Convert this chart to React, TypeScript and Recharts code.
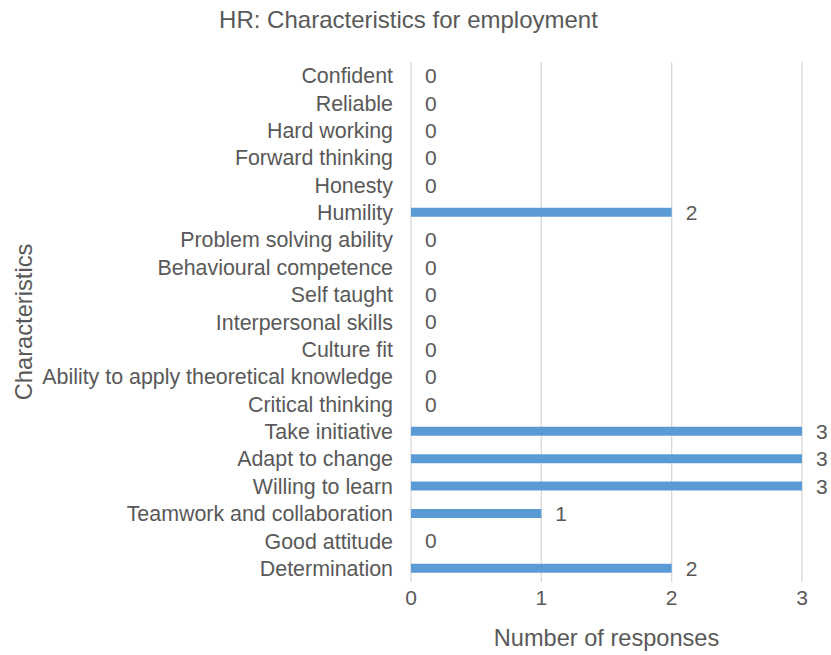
import React from "react";
import {
  ComposedChart,
  Bar,
  Line,
  XAxis,
  YAxis,
  CartesianGrid,
  LabelList,
  Label,
} from "recharts";

const categories: string[] = [
  "Confident",
  "Reliable",
  "Hard working",
  "Forward thinking",
  "Honesty",
  "Humility",
  "Problem solving ability",
  "Behavioural competence",
  "Self taught",
  "Interpersonal skills",
  "Culture fit",
  "Ability to apply theoretical knowledge",
  "Critical thinking",
  "Take initiative",
  "Adapt to change",
  "Willing to learn",
  "Teamwork and collaboration",
  "Good attitude",
  "Determination",
];

const responses: number[] = [0, 0, 0, 0, 0, 2, 0, 0, 0, 0, 0, 0, 0, 3, 3, 3, 1, 0, 2];

const xTicks: number[] = [0, 1, 2, 3];

const title = "HR: Characteristics for employment";
const xTitle = "Number of responses";
const yTitle = "Characteristics";

const data = categories.map((name, i) => ({ name, value: responses[i] }));

const FONT = "'Liberation Sans', Arial, sans-serif";
const TEXT = "#595959";

export default function App() {
  return (
    <div
      style={{
        position: "absolute",
        left: 0,
        top: 0,
        width: 831,
        height: 655,
        background: "#fff",
        fontFamily: FONT,
      }}
    >
      <div
        style={{
          position: "absolute",
          left: 0,
          top: 6,
          width: 817,
          textAlign: "center",
          fontSize: 24,
          color: TEXT,
          fontFamily: FONT,
          lineHeight: "28px",
        }}
      >
        {title}
      </div>
      <ComposedChart
        width={831}
        height={655}
        data={data}
        layout="vertical"
        margin={{ top: 62, right: 29, bottom: 0, left: 0 }}
        barCategoryGap={0}
      >
        <CartesianGrid horizontal={false} vertical={true} stroke="#d9d9d9" strokeWidth={1.3} />
        <XAxis
          type="number"
          domain={[0, 3]}
          ticks={xTicks}
          axisLine={false}
          tickLine={false}
          tickSize={0}
          tickMargin={8}
          height={73}
          tick={{ fill: TEXT, fontSize: 21, fontFamily: FONT }}
        >
          <Label
            content={(props: any) => {
              const vb = props.viewBox || { x: 411, width: 391, y: 582 };
              return (
                <text
                  x={vb.x + vb.width / 2}
                  y={646}
                  textAnchor="middle"
                  fill={TEXT}
                  fontSize={23.6}
                  fontFamily={FONT}
                >
                  {xTitle}
                </text>
              );
            }}
          />
        </XAxis>
        <YAxis
          type="category"
          dataKey="name"
          width={411}
          axisLine={false}
          tickLine={false}
          tickSize={0}
          tickMargin={18}
          interval={0}
          tick={{ fill: TEXT, fontSize: 21.4, fontFamily: FONT }}
        >
          <Label
            content={(props: any) => {
              const vb = props.viewBox || { x: 0, y: 62, height: 520 };
              const cy = vb.y + vb.height / 2;
              return (
                <text
                  x={32}
                  y={cy}
                  transform={`rotate(-90, 32, ${cy})`}
                  textAnchor="middle"
                  fill={TEXT}
                  fontSize={23.7}
                  fontFamily={FONT}
                >
                  {yTitle}
                </text>
              );
            }}
          />
        </YAxis>
        <Bar dataKey="value" fill="#5B9BD5" barSize={9} isAnimationActive={false} />
        <Line
          dataKey="value"
          stroke="none"
          dot={false}
          activeDot={false}
          legendType="none"
          isAnimationActive={false}
        >
          <LabelList
            dataKey="value"
            position="right"
            offset={14}
            fill={TEXT}
            fontSize={21}
            fontFamily={FONT}
          />
        </Line>
      </ComposedChart>
    </div>
  );
}
